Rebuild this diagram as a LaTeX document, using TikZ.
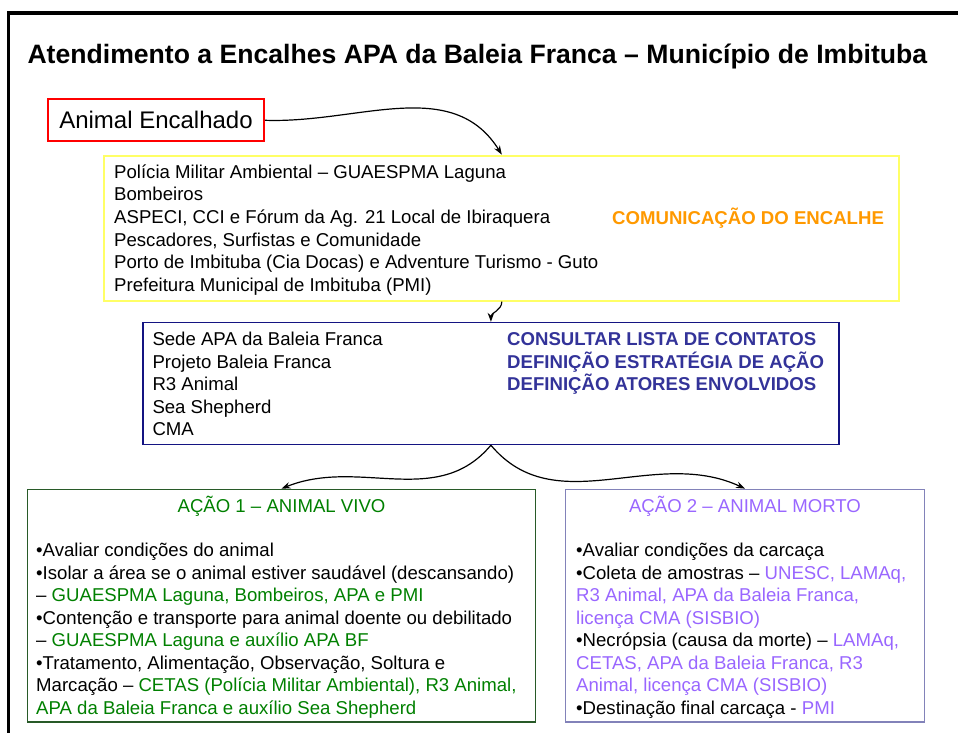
\documentclass[tikz,border=0pt]{standalone}
\usepackage{fontspec}
\setmainfont{Liberation Sans}
\usepackage{tikz}
\usetikzlibrary{arrows.meta,positioning}
\definecolor{alertred}{RGB}{255,0,0}
\definecolor{commyellow}{RGB}{255,255,102}
\definecolor{commorange}{RGB}{255,153,0}
\definecolor{apanavy}{RGB}{20,20,130}
\definecolor{apablue}{RGB}{51,51,153}
\definecolor{vivogreen}{RGB}{0,128,0}
\definecolor{vivoframe}{RGB}{40,90,40}
\definecolor{mortoviolet}{RGB}{153,102,255}
\definecolor{mortoframe}{RGB}{130,130,185}
\tikzstyle{frame}=[rectangle,inner sep=0pt]
\tikzstyle{btext}=[anchor=base west,inner sep=0pt,align=left,font=\fontsize{18.6}{22.6}\selectfont]
\tikzstyle{arrow}=[-{Stealth[length=9pt,width=6.5pt]},line width=1.2pt,draw=black]

\begin{document}
\begin{tikzpicture}[x=1pt,y=-1pt]
  \useasboundingbox (0,0) rectangle (958,733);
  \draw[line width=3.5pt] (958,13) -- (8.7,13) -- (8.7,733);

  \node[anchor=base west,inner sep=0pt,font=\fontsize{26.6}{30}\selectfont\bfseries] (title) at (27.3,64)
    {Atendimento a Encalhes APA da Baleia Franca – Município de Imbituba};

  % boxes
  \node[frame,draw=alertred,line width=2pt,minimum width=216,minimum height=42,
        font=\fontsize{24}{28}\selectfont] (animal) at (156,120.3) {Animal Encalhado};
  \node[frame,draw=commyellow,line width=2pt,minimum width=795,minimum height=145] (com) at (501.8,228.1) {};
  \node[frame,draw=apanavy,line width=1.4pt,minimum width=696,minimum height=122] (apa) at (490.9,383.5) {};
  \node[frame,draw=vivoframe,line width=1.3pt,minimum width=508.4,minimum height=232.6] (vivo) at (281.5,605.6) {};
  \node[frame,draw=mortoframe,line width=1.3pt,minimum width=358.6,minimum height=232.6] (morto) at (745,605.6) {};

  % texts (anchored on the baseline of their last line)
  \node[btext] (comlist) at (114,291.3) {Polícia Militar Ambiental – GUAESPMA Laguna\\
    Bombeiros\\ASPECI, CCI e Fórum da Ag. 21 Local de Ibiraquera\\
    Pescadores, Surfistas e Comunidade\\
    Porto de Imbituba (Cia Docas) e Adventure Turismo - Guto\\
    Prefeitura Municipal de Imbituba (PMI)};
  \node[btext,text=commorange,font=\fontsize{18.6}{22.6}\selectfont\bfseries] (comtag) at (612,224) {COMUNICAÇÃO DO ENCALHE};

  \node[btext,font=\fontsize{18.6}{22.5}\selectfont] (apalist) at (152.3,435.7) {Sede APA da Baleia Franca\\Projeto Baleia Franca\\
    R3 Animal\\Sea Shepherd\\CMA};
  \node[btext,text=apablue,font=\fontsize{18.6}{22.4}\selectfont\bfseries] (apatag) at (507,390.7)
    {CONSULTAR LISTA DE CONTATOS\\DEFINIÇÃO ESTRATÉGIA DE AÇÃO\\DEFINIÇÃO ATORES ENVOLVIDOS};

  \node[anchor=base,inner sep=0pt,text=vivogreen,font=\fontsize{18.6}{22.6}\selectfont] (vivotitle) at (281.5,512.7)
    {AÇÃO 1 – ANIMAL VIVO};
  \node[btext,font=\fontsize{18.6}{22.5}\selectfont] (vivolist) at (36,714) {•Avaliar condições do animal\\
    •Isolar a área se o animal estiver saudável (descansando)\\
    – \textcolor{vivogreen}{GUAESPMA Laguna, Bombeiros, APA e PMI}\\
    •Contenção e transporte para animal doente ou debilitado\\
    – \textcolor{vivogreen}{GUAESPMA Laguna e auxílio APA BF}\\
    •Tratamento, Alimentação, Observação, Soltura e\\
    Marcação – \textcolor{vivogreen}{CETAS (Polícia Militar Ambiental), R3 Animal,}\\
    \textcolor{vivogreen}{APA da Baleia Franca e auxílio Sea Shepherd}};

  \node[anchor=base,inner sep=0pt,text=mortoviolet,font=\fontsize{18.6}{22.6}\selectfont] (mortotitle) at (745,512.7)
    {AÇÃO 2 – ANIMAL MORTO};
  \node[btext,font=\fontsize{18.6}{22.5}\selectfont] (mortolist) at (576,714) {•Avaliar condições da carcaça\\
    •Coleta de amostras – \textcolor{mortoviolet}{UNESC, LAMAq,}\\
    \textcolor{mortoviolet}{R3 Animal, APA da Baleia Franca,}\\
    \textcolor{mortoviolet}{licença CMA (SISBIO)}\\
    •Necrópsia (causa da morte) – \textcolor{mortoviolet}{LAMAq,}\\
    \textcolor{mortoviolet}{CETAS, APA da Baleia Franca, R3}\\
    \textcolor{mortoviolet}{Animal, licença CMA (SISBIO)}\\
    •Destinação final carcaça - \textcolor{mortoviolet}{PMI}};

  % connectors
  \draw[arrow] (animal.east) to[out=-2,in=122] (com.north);
  \draw[arrow] (com.south) to[out=-90,in=90] (apa.north);
  \draw[arrow] (apa.south) to[out=-130,in=22] (vivo.north);
  \draw[arrow] (apa.south) to[out=-50,in=155] (morto.north);
\end{tikzpicture}
\end{document}
